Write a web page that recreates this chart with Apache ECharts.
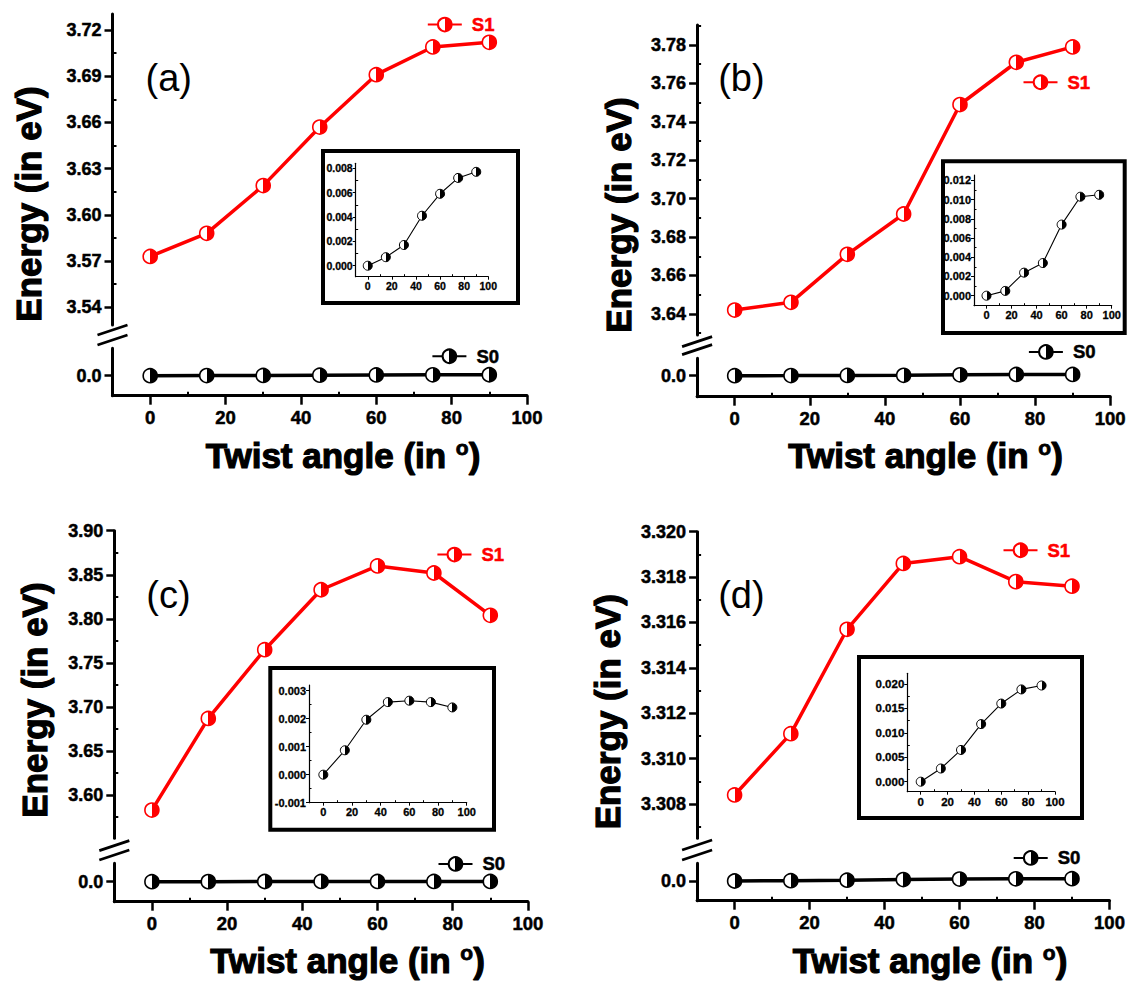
<!DOCTYPE html>
<html><head><meta charset="utf-8">
<script src="https://cdn.jsdelivr.net/npm/echarts@6/dist/echarts.min.js"></script>
<style>html,body{margin:0;padding:0;background:#fff}#c{width:1130px;height:981px}</style>
</head><body><div id="c"></div>
<script>
// ---------------- data ----------------
const angles = [0, 15, 30, 45, 60, 75, 90];
const xTicks = [0, 20, 40, 60, 80, 100];
const xMinorTicks = [10, 30, 50, 70, 90];

const s1A = [3.573, 3.588, 3.619, 3.657, 3.691, 3.709, 3.712];
const s0A = [0, 0.0007, 0.0017, 0.0041, 0.0059, 0.0072, 0.0077];
const s1B = [3.642, 3.646, 3.671, 3.692, 3.749, 3.771, 3.779];
const s0B = [0, 0.0005, 0.0024, 0.0034, 0.0074, 0.0103, 0.0105];
const s1C = [3.583, 3.687, 3.765, 3.833, 3.860, 3.852, 3.804];
const s0C = [0, 0.00087, 0.00196, 0.00259, 0.00264, 0.00259, 0.0024];
const s1D = [3.3084, 3.3111, 3.3157, 3.3186, 3.3189, 3.3178, 3.3176];
const s0D = [0, 0.0027, 0.0065, 0.0118, 0.0160, 0.0189, 0.0197];

const yTicksA = [3.54, 3.57, 3.60, 3.63, 3.66, 3.69, 3.72];
const yTicksB = [3.64, 3.66, 3.68, 3.70, 3.72, 3.74, 3.76, 3.78];
const yTicksC = [3.60, 3.65, 3.70, 3.75, 3.80, 3.85, 3.90];
const yTicksD = [3.308, 3.310, 3.312, 3.314, 3.316, 3.318, 3.320];
const insetTicksA = [0, 0.002, 0.004, 0.006, 0.008];
const insetTicksB = [0, 0.002, 0.004, 0.006, 0.008, 0.010, 0.012];
const insetTicksC = [-0.001, 0, 0.001, 0.002, 0.003];
const insetTicksD = [0, 0.005, 0.010, 0.015, 0.020];
const lowerTicks = [0];
const panelLabels = ['(a)', '(b)', '(c)', '(d)'];
const xTitleMain = 'Twist angle (in ';
const xTitleSup = 'o';
const yTitle = 'Energy (in eV)';
const nameS1 = 'S1';
const nameS0 = 'S0';

// ---------------- layout ----------------
const FONT = '"Liberation Sans", Arial, Helvetica, sans-serif';
const layouts = [
  { left:112.5, right:527, upper:[14,325], upperRange:[3.5285,3.7304], lower:[348.3,395.7], lowerRange:[-0.17,0.232], dec:2,
    frame:[321,149,520,305], inset:[355.7,163.3,488.3,276.7], insetRange:[-0.0009,0.0084], insetFont:10.5,
    brk:[330,340], label:[168.7,77.5], yTitle:[28.6,204], xTitle:[343,455], s1Leg:[426.8,23.3], s0Leg:[431.4,355] },
  { left:697.1, right:1110.2, upper:[25,335], upperRange:[3.629,3.7904], lower:[358.3,396.7], lowerRange:[-0.178,0.147], dec:2,
    frame:[941,159.3,1126.7,335], inset:[974,175,1111.7,305.7], insetRange:[-0.00104,0.01256], insetFont:11,
    brk:[341.7,349.7], label:[741.4,78.3], yTitle:[618,215], xTitle:[925.5,455], s1Leg:[1022.5,81], s0Leg:[1027.9,350.7] },
  { left:114.3, right:527.9, upper:[530.7,838.3], upperRange:[3.551,3.90], lower:[863.3,901.7], lowerRange:[-0.169,0.156], dec:2,
    frame:[268.3,666,496,831.7], inset:[309,685,466.7,802.7], insetRange:[-0.001,0.0032], insetFont:11,
    brk:[845.7,855], label:[168.4,595], yTitle:[34,700], xTitle:[347.5,960], s1Leg:[436.4,553.3], s0Leg:[437.5,862.7] },
  { left:697.1, right:1109.5, upper:[531.7,838.3], upperRange:[3.30649,3.320], lower:[863.3,900.7], lowerRange:[-0.167,0.15], dec:3,
    frame:[857,655,1084,820], inset:[907.3,673.3,1055,791.7], insetRange:[-0.00205,0.0222], insetFont:11.5,
    brk:[845,855], label:[741.4,595], yTitle:[607,711.7], xTitle:[930,960], s1Leg:[1002.5,549], s0Leg:[1012.7,856.7] }
];
const panels = [
  { s1:s1A, s0:s0A, yTicks:yTicksA, insetTicks:insetTicksA },
  { s1:s1B, s0:s0B, yTicks:yTicksB, insetTicks:insetTicksB },
  { s1:s1C, s0:s0C, yTicks:yTicksC, insetTicks:insetTicksC },
  { s1:s1D, s0:s0D, yTicks:yTicksD, insetTicks:insetTicksD }
];

// ---------------- helpers ----------------
const option = { animation:false, backgroundColor:'#ffffff', grid:[], xAxis:[], yAxis:[], series:[], legend:[], graphic:{elements:[]} };

function halfFill(color) {
  return { type:'linear', x:0, y:0, x2:1, y2:0, colorStops:[
    {offset:0,color:'#ffffff'},{offset:0.5,color:'#ffffff'},{offset:0.5,color:color},{offset:1,color:color}] };
}
function minorOf(ticks, min, max) {
  const step = ticks[1]-ticks[0], out = [];
  for (let k = -1; k < ticks.length + 1; k++) {
    const v = +(ticks[0] + step*(k+0.5)).toFixed(10);
    if (v >= min - 1e-12 && v <= max + 1e-12) out.push(v);
  }
  return out;
}
function addCartesian(rect, xr, yr, xOpt, yOpt) {
  option.grid.push({ left:rect[0], top:rect[1], width:rect[2]-rect[0], height:rect[3]-rect[1], containLabel:false, outerBoundsMode:'none', show:false });
  const gi = option.grid.length - 1;
  const base = () => ({ type:'value', gridIndex:gi, splitLine:{show:false}, axisLine:{show:false, onZero:false},
    axisTick:{show:false}, axisLabel:{show:false}, minorTick:{show:false}, minorSplitLine:{show:false} });
  option.xAxis.push(Object.assign(base(), {min:xr[0], max:xr[1], position:'bottom'}, xOpt || {}));
  option.yAxis.push(Object.assign(base(), {min:yr[0], max:yr[1], position:'left'}, yOpt || {}));
  return [option.xAxis.length - 1, option.yAxis.length - 1];
}
function major(ticks, fmt, o) {
  return {
    axisLine:{show:true, onZero:false, lineStyle:{color:'#000', width:o.lineW}},
    axisTick:{show:true, inside:false, length:o.tickLen, customValues:ticks, lineStyle:{color:'#000', width:o.tickW}},
    axisLabel:{show:true, customValues:ticks, margin:o.margin, formatter:fmt, color:'#000', fontWeight:'bold',
      fontSize:o.fontSize, fontFamily:FONT, textBorderColor:'#000', textBorderWidth:o.stroke}
  };
}
function minor(ticks, len, w) {
  return { axisTick:{show:true, inside:true, length:len, customValues:ticks, lineStyle:{color:'#000', width:w}} };
}
function lineSeries(name, xi, yi, vals, color, size, lw, bw) {
  return { type:'line', name:name, xAxisIndex:xi, yAxisIndex:yi, clip:false, z:5,
    data: angles.map((a, i) => [a, vals[i]]),
    symbol:'circle', symbolSize:size,
    lineStyle:{color:color, width:lw},
    itemStyle:{color:halfFill(color), borderColor:color, borderWidth:bw} };
}
const G = option.graphic.elements;
function addText(x, y, text, font, rot, sw) {
  G.push({ type:'text', x:x, y:y, rotation:rot || 0, z:10,
    style:{ text:text, fill:'#000', stroke: sw ? '#000' : null, lineWidth: sw || 0, font:font,
      align:'center', verticalAlign:'middle', textAlign:'center', textVerticalAlign:'middle' } });
}

// ---------------- build panels ----------------
const xr = [-10, 100];
panels.forEach((P, i) => {
  const L = layouts[i];
  const fmtY = v => v.toFixed(L.dec);
  // upper segment (S1)
  const up = [L.left, L.upper[0], L.right, L.upper[1]];
  const [xu, yu] = addCartesian(up, xr, L.upperRange, {},
    major(P.yTicks, fmtY, {lineW:3, tickLen:8, tickW:2.5, margin:11, fontSize:18, stroke:0.5}));
  addCartesian(up, xr, L.upperRange, {}, minor(minorOf(P.yTicks, L.upperRange[0], L.upperRange[1]), 4, 2));
  option.series.push(lineSeries(nameS1, xu, yu, P.s1, '#ff0000', 14, 3.5, 1.6));
  // lower segment (S0)
  const lo = [L.left, L.lower[0], L.right, L.lower[1]];
  const [xl, yl] = addCartesian(lo, xr, L.lowerRange,
    major(xTicks, v => String(v), {lineW:3, tickLen:9, tickW:2.5, margin:12, fontSize:18.5, stroke:0.5}),
    major(lowerTicks, v => v.toFixed(1), {lineW:3, tickLen:8, tickW:2.5, margin:11, fontSize:18, stroke:0.5}));
  addCartesian(lo, xr, L.lowerRange, minor(xMinorTicks, 4, 2), {});
  option.series.push(lineSeries(nameS0, xl, yl, P.s0, '#000000', 14, 3.5, 1.6));
  // inset
  const ins = L.inset;
  const [xi, yi] = addCartesian(ins, xr, L.insetRange,
    major(xTicks, v => String(v), {lineW:1.2, tickLen:3, tickW:1, margin:4, fontSize:L.insetFont, stroke:0.3}),
    major(P.insetTicks, v => v.toFixed(3), {lineW:1.2, tickLen:3, tickW:1, margin:3, fontSize:L.insetFont, stroke:0.3}));
  addCartesian(ins, xr, L.insetRange, minor(xMinorTicks, 2.5, 1),
    minor(minorOf(P.insetTicks, L.insetRange[0], L.insetRange[1]), 2.5, 1));
  option.series.push(lineSeries(nameS0 + ' ', xi, yi, P.s0, '#000000', 9, 1.1, 1));
  // inset frame
  const f = L.frame;
  G.push({ type:'rect', z:1, shape:{x:f[0]+2, y:f[1]+2, width:f[2]-f[0]-4, height:f[3]-f[1]-4},
    style:{fill:'none', stroke:'#000', lineWidth:4} });
  // axis break marks
  L.brk.forEach(cy => {
    G.push({ type:'line', z:10, shape:{x1:L.left-15, y1:cy+5, x2:L.left+15, y2:cy-5},
      style:{stroke:'#000', lineWidth:2.8} });
  });
  // texts
  addText(L.label[0], L.label[1], panelLabels[i], '38px ' + FONT, 0, 0);
  addText(L.yTitle[0], L.yTitle[1], yTitle, 'bold 35px ' + FONT, Math.PI/2, 1.2);
  G.push({ type:'text', x:L.xTitle[0], y:L.xTitle[1], z:10,
    style:{ text:'{a|' + xTitleMain + '}{b|' + xTitleSup + '}{a|)}', align:'center', verticalAlign:'middle',
      rich:{ a:{font:'bold 35px ' + FONT, fill:'#000', stroke:'#000', lineWidth:1.2, verticalAlign:'bottom', lineHeight:36},
             b:{font:'bold 21px ' + FONT, fill:'#000', stroke:'#000', lineWidth:0.8, verticalAlign:'top', lineHeight:36} } } });
  // legends
  const legBase = { padding:0, itemWidth:34, itemHeight:17, selectedMode:false, orient:'horizontal' };
  option.legend.push(Object.assign({}, legBase, { data:[nameS1], left:L.s1Leg[0], top:L.s1Leg[1]-8.5,
    textStyle:{color:'#ff0000', fontWeight:'bold', fontSize:18.5, fontFamily:FONT, textBorderColor:'#ff0000', textBorderWidth:0.5, padding:[0,0,0,5]} }));
  option.legend.push(Object.assign({}, legBase, { data:[nameS0], left:L.s0Leg[0], top:L.s0Leg[1]-8.5,
    textStyle:{color:'#000', fontWeight:'bold', fontSize:18.5, fontFamily:FONT, textBorderColor:'#000', textBorderWidth:0.5, padding:[0,0,0,5]} }));
});

const chart = echarts.init(document.getElementById('c'), null, {renderer:'svg', width:1130, height:981});
chart.setOption(option);
</script>
</body></html>
